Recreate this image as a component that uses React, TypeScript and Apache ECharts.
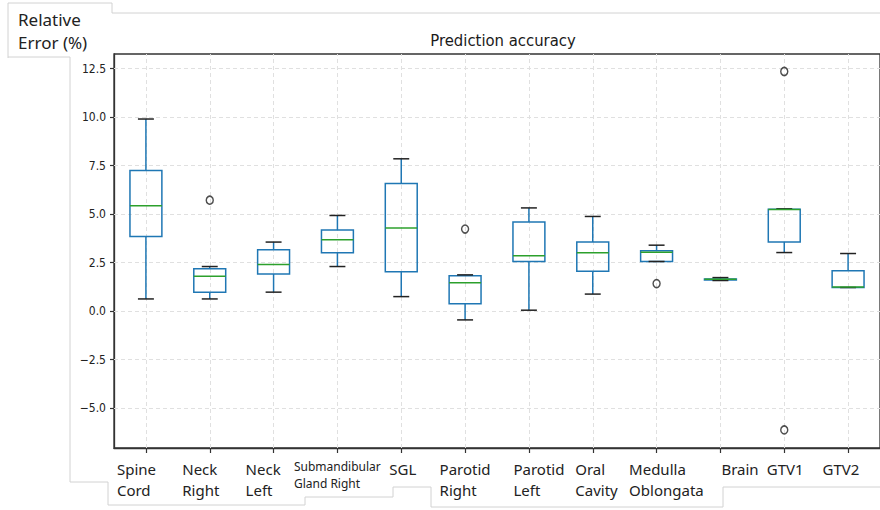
import React, { useEffect, useRef } from "react";
import * as echarts from "echarts";

const categories = [
  "Spine\nCord",
  "Neck\nRight",
  "Neck\nLeft",
  "Submandibular\nGland Right",
  "SGL",
  "Parotid\nRight",
  "Parotid\nLeft",
  "Oral\nCavity",
  "Medulla\nOblongata",
  "Brain",
  "GTV1",
  "GTV2",
];
// per category: lower whisker, Q1, median, Q3, upper whisker
const lowerWhisker = [0.63, 0.63, 0.98, 2.3, 0.75, -0.45, 0.05, 0.88, 2.56, 1.58, 3.02, 1.22];
const q1 = [3.85, 0.98, 1.92, 3.01, 2.03, 0.38, 2.56, 2.06, 2.56, 1.6, 3.56, 1.22];
const median = [5.43, 1.8, 2.4, 3.68, 4.28, 1.47, 2.85, 3.01, 3.04, 1.64, 5.24, 1.24];
const q3 = [7.25, 2.18, 3.16, 4.18, 6.58, 1.82, 4.59, 3.56, 3.11, 1.66, 5.25, 2.08];
const upperWhisker = [9.9, 2.3, 3.56, 4.93, 7.85, 1.87, 5.32, 4.88, 3.4, 1.73, 5.27, 2.97];
const outlierCategory = [1, 5, 8, 10, 10];
const outlierValue = [5.72, 4.23, 1.42, 12.35, -6.12];
const yTicks = [-5, -2.5, 0, 2.5, 5, 7.5, 10, 12.5];

const BLUE = "#1f77b4";
const GREEN = "#2ca02c";
const DARK = "#222222";

export default function App() {
  const ref = useRef<HTMLDivElement>(null);
  useEffect(() => {
    if (!ref.current) return;
    const chart = echarts.init(ref.current, undefined, { renderer: "svg" });
    const labelShift = [-9, -8.5, -10, 0, 2, 0, 10, 4, 10, 20, 1, -7];
    const ctx = document.createElement("canvas").getContext("2d");
    const measure = (t: string, size: number) => {
      if (!ctx) return t.length * size * 0.55;
      ctx.font = `${size}px "Noto Sans"`;
      return ctx.measureText(t).width;
    };
    const rich: any = {};
    categories.forEach((c, i) => {
      const small = c.startsWith("Submandibular");
      const size = small ? 12 : 15;
      const w = Math.ceil(Math.max(...c.split("\n").map((l) => measure(l, size))));
      rich["r" + i] = {
        width: w,
        align: "left",
        fontSize: size,
        lineHeight: small ? 17 : 21,
        fontFamily: "Noto Sans",
        color: "#222",
      };
    });
    const xData = categories.map((c, i) => {
      const s = labelShift[i];
      const pad = s < 0 ? [0, -2 * s, 0, 0] : [0, 0, 0, 2 * s];
      return { value: c, textStyle: { padding: pad } };
    });
    const boxData = categories.map((_, i) => [
      i,
      lowerWhisker[i],
      q1[i],
      median[i],
      q3[i],
      upperWhisker[i],
    ]);
    const outData = outlierCategory.map((c, i) => [c, outlierValue[i]]);
    const grey = "#d2d2d2";
    const gridLineStyle = { color: "#e0e0e0", type: [4, 3], width: 1 };
    const markData = [
      ...yTicks.map((v) => ({ yAxis: v })),
      ...categories.map((_, i) => ({ xAxis: i })),
    ];
    const option: any = {
      animation: false,
      backgroundColor: "#ffffff",
      title: {
        text: "Prediction accuracy",
        left: 498,
        textAlign: "center",
        top: 27,
        textStyle: {
          fontFamily: "DejaVu Sans Condensed, DejaVu Sans",
          fontSize: 16.5,
          fontWeight: "normal",
          color: "#1a1a1a",
        },
      },
      graphic: [
        {
          type: "polyline",
          shape: { points: [[8, 58], [8, 3], [112, 3], [112, 13], [880, 13]] },
          style: { stroke: grey, lineWidth: 1, fill: "none" },
          silent: true,
        },
        {
          type: "polyline",
          shape: {
            points: [
              [8, 57], [70, 57], [70, 482], [108, 482], [108, 505], [305, 505],
              [305, 497], [393, 497], [393, 487], [431, 487], [431, 507],
              [723, 507], [723, 487], [880, 487],
            ],
          },
          style: { stroke: grey, lineWidth: 1, fill: "none" },
          silent: true,
        },
        {
          type: "text",
          left: 18,
          top: 8,
          style: {
            text: "Relative\nError (%)",
            fontFamily: "Noto Sans",
            fontSize: 17,
            lineHeight: 23,
            fill: "#222",
          },
        },
      ],
      grid: {
        left: 114,
        top: 54,
        width: 768,
        height: 394,
        show: true,
        borderColor: "#333",
        borderWidth: 1.3,
        backgroundColor: "transparent",
      },
      xAxis: {
        type: "category",
        data: xData,
        boundaryGap: true,
        axisLine: { show: true, onZero: false, lineStyle: { color: "#333", width: 1.3 } },
        axisTick: {
          show: true,
          alignWithLabel: true,
          length: 5,
          lineStyle: { color: "#333", width: 1.2 },
        },
        splitLine: { show: false },
        axisLabel: {
          interval: 0,
          fontFamily: "Noto Sans",
          fontSize: 15,
          lineHeight: 21,
          color: "#222",
          margin: 10,
          formatter: (v: string, i: number) =>
            v
              .split("\n")
              .map((l) => `{r${i}|${l}}`)
              .join("\n"),
          rich,
        },
      },
      yAxis: {
        type: "value",
        min: -7.05,
        max: 13.25,
        axisLine: { show: true, onZero: false, lineStyle: { color: "#333", width: 1.3 } },
        axisTick: {
          show: true,
          length: 4,
          customValues: yTicks,
          lineStyle: { color: "#333", width: 1.2 },
        },
        axisLabel: {
          customValues: yTicks,
          formatter: (v: number) => v.toFixed(1).replace("-", "\u2212"),
          fontFamily: "DejaVu Sans Condensed, DejaVu Sans",
          fontSize: 12,
          color: "#222",
          margin: 8,
        },
        splitLine: { show: false },
      },
      series: [
        {
          type: "custom",
          data: boxData,
          encode: { x: 0, y: [1, 2, 3, 4, 5] },
          renderItem: (params: any, api: any) => {
            const i = api.value(0);
            const lo = api.coord([i, api.value(1)]);
            const b1 = api.coord([i, api.value(2)]);
            const md = api.coord([i, api.value(3)]);
            const b3 = api.coord([i, api.value(4)]);
            const hi = api.coord([i, api.value(5)]);
            const band = api.size([1, 0])[0];
            const half = band * 0.25;
            const cap = band * 0.125;
            const x = lo[0];
            const lw = 1.5;
            return {
              type: "group",
              children: [
                {
                  type: "line",
                  shape: { x1: x, y1: b1[1], x2: x, y2: lo[1] },
                  style: { stroke: BLUE, lineWidth: lw },
                },
                {
                  type: "line",
                  shape: { x1: x, y1: b3[1], x2: x, y2: hi[1] },
                  style: { stroke: BLUE, lineWidth: lw },
                },
                {
                  type: "rect",
                  shape: { x: x - half, y: b3[1], width: 2 * half, height: b1[1] - b3[1] },
                  style: { fill: "none", stroke: BLUE, lineWidth: lw },
                },
                {
                  type: "line",
                  shape: { x1: x - cap, y1: lo[1], x2: x + cap, y2: lo[1] },
                  style: { stroke: DARK, lineWidth: lw },
                },
                {
                  type: "line",
                  shape: { x1: x - cap, y1: hi[1], x2: x + cap, y2: hi[1] },
                  style: { stroke: DARK, lineWidth: lw },
                },
                {
                  type: "line",
                  shape: { x1: x - half, y1: md[1], x2: x + half, y2: md[1] },
                  style: { stroke: GREEN, lineWidth: lw },
                },
              ],
            };
          },
          z: 3,
        },
        {
          type: "scatter",
          data: outData,
          symbol: "circle",
          symbolSize: [7, 8],
          itemStyle: { color: "rgba(0,0,0,0)", borderColor: DARK, borderWidth: 1.5 },
          z: 4,
          markLine: {
            silent: true,
            symbol: ["none", "none"],
            label: { show: false },
            lineStyle: gridLineStyle,
            emphasis: { disabled: true },
            animation: false,
            z: 1,
            data: markData,
          },
        },
      ],
    };
    chart.setOption(option);
    return () => chart.dispose();
  }, []);
  return <div ref={ref} style={{ width: 880, height: 510, position: "absolute", left: 0, top: 0 }} />;
}
